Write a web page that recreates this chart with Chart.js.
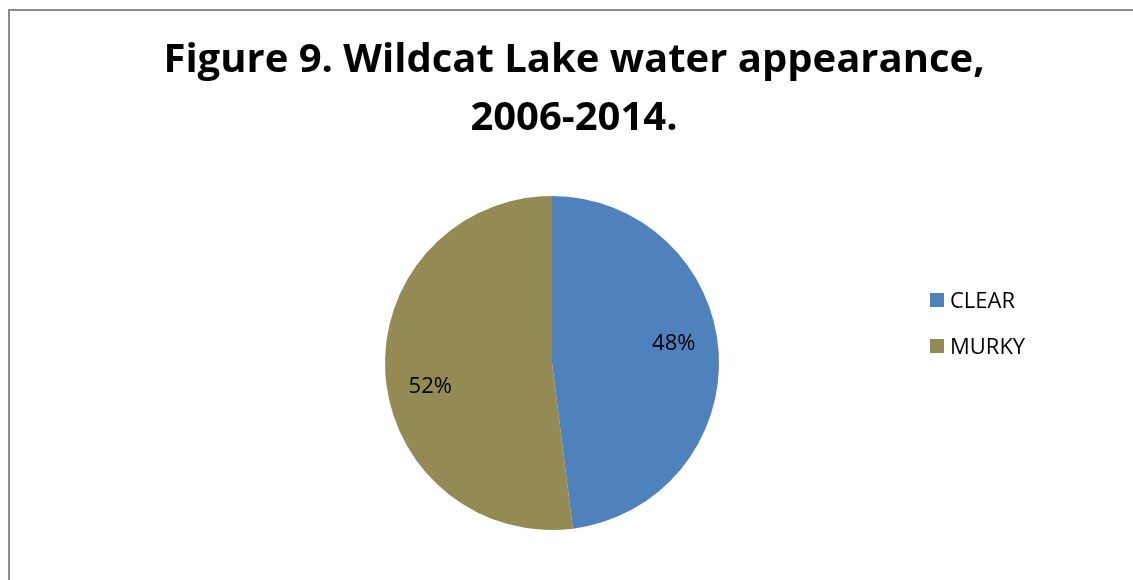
<!DOCTYPE html>
<html>
<head>
<meta charset="utf-8">
<script src="https://cdn.jsdelivr.net/npm/chart.js@4/dist/chart.umd.min.js"></script>
<style>
  html, body { margin: 0; padding: 0; background: #fff; overflow: hidden; }
  #frame {
    position: absolute; left: 8px; top: 9px; width: 1300px; height: 800px;
    border-left: 2px solid #8c8c8c; border-top: 2px solid #8c8c8c;
  }
  #wrap { position: absolute; left: 0; top: 0; width: 1133px; height: 580px; }
</style>
</head>
<body>
<div id="frame"></div>
<div id="wrap"><canvas id="chart1" width="1133" height="580"></canvas></div>
<script>
const titleLines = ['Figure 9. Wildcat Lake water appearance,', '2006-2014.'];
const categories = ['CLEAR', 'MURKY'];
const shares = [48, 52];
const sliceColors = ['#4F81BD', '#948A54'];

const FONT = '"Open Sans", Lato, sans-serif';

// title drawn by hand so it can sit off the pie's centre like the Excel original
const titlePlugin = {
  id: 'excelTitle',
  afterDraw(chart) {
    const { ctx } = chart;
    ctx.save();
    ctx.fillStyle = '#000';
    ctx.textAlign = 'center';
    ctx.textBaseline = 'alphabetic';
    ctx.font = `bold 40px ${FONT}`;
    titleLines.forEach((line, i) => ctx.fillText(line, 574, 72 + i * 58));
    ctx.restore();
  },
};

const sliceLabels = {
  id: 'sliceLabels',
  afterDatasetsDraw(chart) {
    const { ctx } = chart;
    const meta = chart.getDatasetMeta(0);
    ctx.save();
    ctx.font = `22px ${FONT}`;
    ctx.fillStyle = '#000';
    ctx.textAlign = 'center';
    ctx.textBaseline = 'middle';
    meta.data.forEach((arc, i) => {
      const { x, y, startAngle, endAngle, outerRadius } = arc.getProps(
        ['x', 'y', 'startAngle', 'endAngle', 'outerRadius'], true);
      const mid = (startAngle + endAngle) / 2 - 0.11;
      const r = outerRadius * 0.74;
      ctx.fillText(`${shares[i]}%`, x + Math.cos(mid) * r, y + Math.sin(mid) * r + 2);
    });
    ctx.restore();
  },
};

const sideLegend = {
  id: 'sideLegend',
  afterDraw(chart) {
    const { ctx } = chart;
    ctx.save();
    ctx.font = `22px ${FONT}`;
    ctx.textBaseline = 'middle';
    ctx.textAlign = 'left';
    categories.forEach((label, i) => {
      const cy = 300 + i * 46;
      ctx.fillStyle = sliceColors[i];
      ctx.fillRect(930, cy - 7, 14, 14);
      ctx.fillStyle = '#000';
      ctx.fillText(label, 950, cy + 2);
    });
    ctx.restore();
  },
};

new Chart(document.getElementById('chart1').getContext('2d'), {
  type: 'pie',
  data: {
    labels: categories,
    datasets: [
      {
        data: shares,
        backgroundColor: sliceColors,
        borderWidth: 0,
        hoverOffset: 0,
      },
    ],
  },
  options: {
    responsive: false,
    animation: false,
    layout: { padding: { top: 196, bottom: 50, left: 0, right: 29 } },
    plugins: {
      legend: { display: false },
      title: { display: false },
      tooltip: { enabled: false },
    },
  },
  plugins: [titlePlugin, sliceLabels, sideLegend],
});
</script>
</body>
</html>
